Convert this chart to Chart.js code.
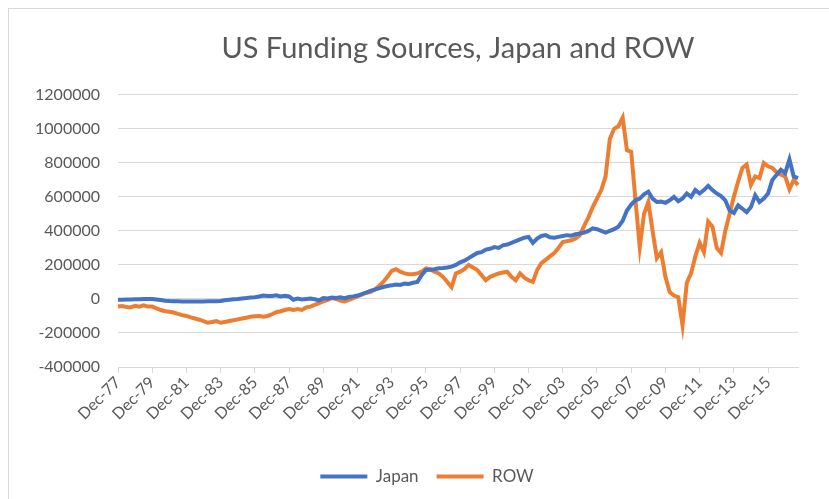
<!DOCTYPE html>
<html>
<head>
<meta charset="utf-8">
<script src="https://cdn.jsdelivr.net/npm/chart.js@4.4.0/dist/chart.umd.min.js"></script>
<style>
    body { margin: 0; background: #ffffff; }
    #frame { position: absolute; left: 8px; top: 8px; width: 830px; height: 500px; border: 1px solid #d9d9d9; }
    #fundingChart { position: absolute; left: 0; top: 0; }
</style>
</head>
<body>
<div id="frame"></div>
<canvas id="fundingChart" width="829" height="499"></canvas>
<script>
// quarterly, Dec-77 .. Sep-17
var quarters = ['Dec', 'Mar', 'Jun', 'Sep'];
var firstYear = 77;
var yearCount = 40;

var japan = [
    -5000, -4000, -3000, -3000,
    -2000, -2000, -1000, 0,
    0, -3000, -6000, -10000,
    -12000, -13000, -14000, -15000,
    -15000, -15000, -15000, -15000,
    -15000, -14000, -14000, -13000,
    -12000, -8000, -5000, -2000,
    0, 3000, 5000, 8000,
    10000, 14000, 20000, 17000,
    18000, 22000, 15000, 18000,
    15000, -5000, 2000, -3000,
    0, 3000, -2000, -8000,
    5000, 3000, 8000, 6000,
    10000, 5000, 12000, 15000,
    20000, 28000, 38000, 48000,
    55000, 62000, 70000, 76000,
    80000, 85000, 82000, 90000,
    88000, 95000, 100000, 140000,
    170000, 172000, 175000, 180000,
    182000, 185000, 190000, 200000,
    215000, 225000, 240000, 255000,
    270000, 275000, 290000, 295000,
    305000, 300000, 315000, 320000,
    330000, 340000, 350000, 360000,
    365000, 330000, 355000, 370000,
    375000, 362000, 360000, 365000,
    370000, 375000, 372000, 380000,
    385000, 390000, 400000, 415000,
    410000, 400000, 390000, 400000,
    410000, 425000, 460000, 520000,
    555000, 580000, 590000, 615000,
    630000, 590000, 570000, 572000,
    565000, 580000, 600000, 575000,
    590000, 620000, 600000, 640000,
    620000, 640000, 665000, 640000,
    620000, 605000, 580000, 520000,
    505000, 550000, 530000, 510000,
    540000, 610000, 570000, 590000,
    620000, 700000, 730000, 760000,
    740000, 820000, 720000, 710000
];

var row = [
    -45000, -42000, -48000, -50000,
    -40000, -45000, -38000, -45000,
    -45000, -55000, -65000, -72000,
    -75000, -80000, -88000, -95000,
    -100000, -108000, -115000, -122000,
    -130000, -140000, -135000, -130000,
    -140000, -135000, -130000, -125000,
    -120000, -115000, -110000, -105000,
    -102000, -100000, -105000, -100000,
    -90000, -78000, -72000, -65000,
    -60000, -65000, -60000, -65000,
    -50000, -45000, -35000, -25000,
    -15000, -5000, 5000, 0,
    -10000, -15000, -5000, 5000,
    15000, 25000, 35000, 40000,
    55000, 75000, 100000, 130000,
    165000, 175000, 160000, 150000,
    145000, 145000, 150000, 160000,
    180000, 175000, 160000, 150000,
    130000, 100000, 70000, 150000,
    160000, 175000, 200000, 185000,
    170000, 140000, 110000, 130000,
    140000, 150000, 155000, 160000,
    130000, 110000, 150000, 125000,
    110000, 100000, 170000, 210000,
    230000, 250000, 270000, 300000,
    335000, 340000, 345000, 355000,
    375000, 430000, 480000, 540000,
    590000, 640000, 720000, 940000,
    1000000, 1015000, 1065000, 875000,
    865000, 580000, 305000, 500000,
    570000, 400000, 240000, 275000,
    130000, 40000, 20000, 10000,
    -155000, 95000, 150000, 250000,
    330000, 275000, 455000, 425000,
    300000, 270000, 400000, 500000,
    600000, 690000, 770000, 790000,
    670000, 720000, 710000, 800000,
    780000, 770000, 745000, 730000,
    720000, 645000, 700000, 670000
];

var yTicks = [-400000, -200000, 0, 200000, 400000, 600000, 800000, 1000000, 1200000];

document.addEventListener("DOMContentLoaded", function () {
    var labels = [];
    for (var y = 0; y < yearCount; y++) {
        for (var q = 0; q < 4; q++) {
            var yr = (firstYear + y + (q > 0 ? 1 : 0)) % 100;
            labels.push(quarters[q] + '-' + (yr < 10 ? '0' + yr : yr));
        }
    }

    var grey = '#595959';
    var ctx = document.getElementById('fundingChart').getContext('2d');
    var chart = new Chart(ctx, {
        type: 'line',
        data: {
            labels: labels,
            datasets: [{
                label: 'Japan',
                data: japan,
                borderColor: '#4472c4',
                backgroundColor: '#4472c4',
                borderWidth: 4,
                pointRadius: 0,
                tension: 0
            },
            {
                label: 'ROW',
                data: row,
                borderColor: '#ed7d31',
                backgroundColor: '#ed7d31',
                borderWidth: 4,
                pointRadius: 0,
                tension: 0
            }]
        },
        options: {
            responsive: false,
            animation: false,
            layout: { padding: { left: 25, right: 0, top: 0, bottom: 4 } },
            plugins: {
                title: {
                    display: true,
                    fullSize: false,
                    text: 'US Funding Sources, Japan and ROW',
                    color: grey,
                    font: { family: 'Lato', size: 29, weight: 'normal' },
                    padding: { top: 31, bottom: 29 }
                },
                legend: {
                    position: 'bottom',
                    labels: {
                        usePointStyle: true,
                        pointStyle: 'line',
                        pointStyleWidth: 47,
                        color: grey,
                        font: { family: 'Lato', size: 17 },
                        padding: 18
                    }
                },
                tooltip: { enabled: false }
            },
            scales: {
                x: {
                    grid: {
                        drawOnChartArea: false,
                        drawTicks: true,
                        tickLength: 6,
                        color: '#d9d9d9'
                    },
                    border: { color: '#d9d9d9' },
                    ticks: {
                        autoSkip: false,
                        minRotation: 45,
                        maxRotation: 45,
                        padding: 0,
                        color: grey,
                        font: { family: 'Lato', size: 16 },
                        callback: function (value, index) {
                            return index % 8 === 0 ? labels[index] : null;
                        }
                    },
                    afterFit: function (scale) { scale.height = 83; }
                },
                y: {
                    min: -400000,
                    max: 1200000,
                    grid: { color: '#d9d9d9', drawTicks: false },
                    border: { display: false },
                    afterBuildTicks: function (scale) {
                        scale.ticks = yTicks.map(function (v) { return { value: v }; });
                    },
                    ticks: {
                        padding: 18,
                        color: grey,
                        font: { family: 'Lato', size: 16 },
                        callback: function (value) { return String(value); }
                    },
                    afterFit: function (scale) { scale.width = 93; }
                },
                y2: {
                    position: 'right',
                    grid: { display: false },
                    border: { display: false },
                    ticks: { display: false },
                    afterFit: function (scale) { scale.width = 31; }
                }
            }
        }
    });
});
</script>
</body>
</html>
